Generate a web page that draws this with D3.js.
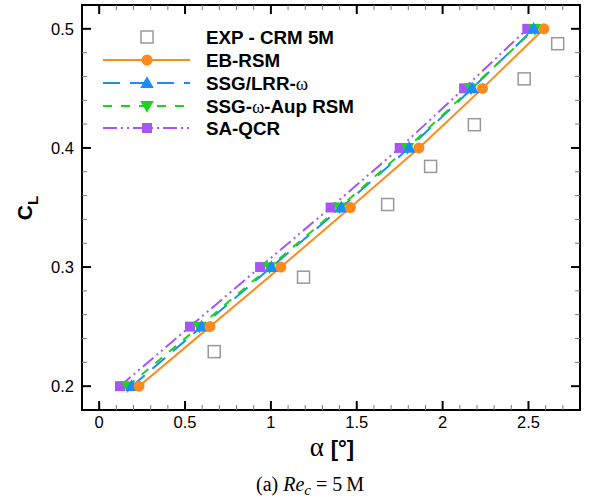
<!DOCTYPE html>
<html><head><meta charset="utf-8">
<script src="https://cdn.jsdelivr.net/npm/d3@7/dist/d3.min.js"></script>
<style>body{margin:0;background:#fff}svg{display:block}</style>
</head><body>
<svg id="chart" width="590" height="501"></svg>
<script>
// ---- data ----
const clLevels = [0.20, 0.25, 0.30, 0.35, 0.40, 0.45, 0.50];
const alphaEB   = [0.232, 0.645, 1.058, 1.463, 1.862, 2.232, 2.590];
const alphaSSG  = [0.190, 0.597, 1.003, 1.410, 1.805, 2.172, 2.530];
const alphaAup  = [0.166, 0.583, 0.992, 1.400, 1.795, 2.165, 2.537];
const alphaQCR  = [0.121, 0.529, 0.937, 1.348, 1.750, 2.125, 2.493];
const expAlpha  = [0.67, 1.19, 1.68, 1.93, 2.185, 2.475, 2.67];
const expCL     = [0.229, 0.2915, 0.3525, 0.3845, 0.4195, 0.458, 0.4875];
const xTicks = [0, 0.5, 1, 1.5, 2, 2.5];
const yTicks = [0.2, 0.3, 0.4, 0.5];
const seriesNames = ["EXP - CRM 5M", "EB-RSM", "SSG/LRR-", "SSG-", "SA-QCR"];

const SANS = "'Liberation Sans', Arial, Helvetica, sans-serif";
const SERIF = "'Liberation Serif', 'Times New Roman', serif";

const svg = d3.select("#chart");
const L = 82, R = 580, T = 5, B = 410;
const x = d3.scaleLinear().domain([-0.1, 2.8]).range([L, R]);
const y = d3.scaleLinear().domain([0.18, 0.52]).range([B, T]);

// frame
svg.append("rect").attr("x", L).attr("y", T).attr("width", R - L).attr("height", B - T)
  .attr("fill", "none").attr("stroke", "#000").attr("stroke-width", 2);

// ticks inward on all four sides
const xMinor = d3.range(-0.1, 2.81, 0.1).map(v => +v.toFixed(2)).filter(v => !xTicks.includes(v) && v > -0.1 && v < 2.8);
const yMinor = d3.range(0.18, 0.521, 0.02).map(v => +v.toFixed(2)).filter(v => !yTicks.includes(v) && v > 0.18 && v < 0.52);
const g = svg.append("g");
function tickX(vals, len, w, c) {
  vals.forEach(v => {
    g.append("line").attr("x1", x(v)).attr("x2", x(v)).attr("y1", B).attr("y2", B - len).attr("stroke-width", w).attr("stroke", c);
    g.append("line").attr("x1", x(v)).attr("x2", x(v)).attr("y1", T).attr("y2", T + len).attr("stroke-width", w).attr("stroke", c);
  });
}
function tickY(vals, len, w, c) {
  vals.forEach(v => {
    g.append("line").attr("y1", y(v)).attr("y2", y(v)).attr("x1", L).attr("x2", L + len).attr("stroke-width", w).attr("stroke", c);
    g.append("line").attr("y1", y(v)).attr("y2", y(v)).attr("x1", R).attr("x2", R - len).attr("stroke-width", w).attr("stroke", c);
  });
}
tickX(xTicks, 9, 2, "#000"); tickX(xMinor, 5, 1, "#777");
tickY(yTicks, 9, 2, "#000"); tickY(yMinor, 5, 1, "#777");

// tick labels
const fmt = d => d === 0 ? "0" : String(d);
svg.append("g").selectAll("text").data(xTicks).join("text")
  .attr("x", d => x(d)).attr("y", 428).attr("text-anchor", "middle")
  .attr("font-family", SANS).attr("font-size", 16.5).text(fmt);
svg.append("g").selectAll("text").data(yTicks).join("text")
  .attr("x", 74).attr("y", d => y(d) + 6).attr("text-anchor", "end")
  .attr("font-family", SANS).attr("font-size", 16.5).text(d => d.toFixed(1));

// axis titles
const yl = svg.append("text").attr("transform", "translate(32,208) rotate(-90)")
  .attr("text-anchor", "middle").attr("font-family", SANS)
  .attr("font-weight", "bold").attr("font-size", 21);
yl.append("tspan").text("C");
yl.append("tspan").attr("dy", 6).attr("font-size", 15).text("L");

const xl = svg.append("text").attr("x", 332).attr("y", 456).attr("text-anchor", "middle")
  .attr("font-size", 22);
xl.append("tspan").attr("font-family", SERIF).attr("font-size", 27).text("α ");
xl.append("tspan").attr("font-family", SANS).attr("font-weight", "bold").text("[°]");

// caption
const cap = svg.append("text").attr("x", 310).attr("y", 491).attr("text-anchor", "middle")
  .attr("font-family", SERIF).attr("font-size", 20);
cap.append("tspan").text("(a) ");
cap.append("tspan").attr("font-style", "italic").text("Re");
cap.append("tspan").attr("font-style", "italic").attr("font-size", 15).attr("dy", 4).text("c");
cap.append("tspan").attr("dy", -4).text(" = 5\u2009M");

// series
const styles = [
  {name: "EB-RSM", a: alphaEB, color: "#ff8a1c", dash: null, marker: "circle"},
  {name: "SSG/LRR", a: alphaSSG, color: "#1a8cff", dash: "17,10", marker: "tri"},
  {name: "Aup", a: alphaAup, color: "#1ed21e", dash: "9,9", marker: "tridown"},
  {name: "QCR", a: alphaQCR, color: "#a855f7", dash: "14,4,2,4,2,4", marker: "square"}
];
const line = d3.line().x(d => x(d[0])).y(d => y(d[1]));
const tri = d3.symbol().type(d3.symbolTriangle).size(80);
function drawMarker(sel, type, color, cx, cy) {
  if (type === "circle") sel.append("circle").attr("cx", cx).attr("cy", cy).attr("r", 5.5).attr("fill", color);
  else if (type === "square") sel.append("rect").attr("x", cx - 5).attr("y", cy - 5).attr("width", 10).attr("height", 10).attr("fill", color);
  else if (type === "tri") sel.append("path").attr("d", tri()).attr("transform", `translate(${cx},${cy + 1})`).attr("fill", color);
  else if (type === "tridown") sel.append("path").attr("d", tri()).attr("transform", `translate(${cx},${cy - 1}) rotate(180)`).attr("fill", color);
}
const plot = svg.append("g");
// exp squares
expAlpha.forEach((a, i) => {
  plot.append("rect").attr("x", x(a) - 6).attr("y", y(expCL[i]) - 6).attr("width", 12).attr("height", 12)
    .attr("fill", "#fff").attr("stroke", "#999").attr("stroke-width", 1.5);
});
styles.forEach(s => {
  const pts = s.a.map((a, i) => [a, clLevels[i]]);
  plot.append("path").attr("d", line(pts)).attr("fill", "none").attr("stroke", s.color)
    .attr("stroke-width", 2).attr("stroke-dasharray", s.dash);
});
styles.slice().reverse().forEach(s => {
  s.a.forEach((a, i) => drawMarker(plot, s.marker, s.color, x(a), y(clLevels[i])));
});

// legend
const lg = svg.append("g");
const rowsY = [37, 60, 83, 106, 128];
lg.append("rect").attr("x", 141).attr("y", rowsY[0] - 6).attr("width", 12).attr("height", 12)
  .attr("fill", "#fff").attr("stroke", "#999").attr("stroke-width", 1.5);
styles.forEach((s, i) => {
  const yy = rowsY[i + 1];
  lg.append("line").attr("x1", 103).attr("x2", 190).attr("y1", yy).attr("y2", yy)
    .attr("stroke", s.color).attr("stroke-width", 2).attr("stroke-dasharray", s.dash);
  drawMarker(lg, s.marker, s.color, 147, yy);
});
const legendText = (i) => lg.append("text").attr("x", 206).attr("y", rowsY[i] + 6.5)
  .attr("font-family", SANS).attr("font-weight", "bold").attr("font-size", 18.8);
legendText(0).text(seriesNames[0]);
legendText(1).text(seriesNames[1]);
const t2 = legendText(2); t2.append("tspan").text(seriesNames[2]);
t2.append("tspan").attr("font-family", SERIF).attr("font-weight", "normal").text("ω");
const t3 = legendText(3); t3.append("tspan").text(seriesNames[3]);
t3.append("tspan").attr("font-family", SERIF).attr("font-weight", "normal").text("ω");
t3.append("tspan").text("-Aup RSM");
legendText(4).text(seriesNames[4]);
</script>
</body></html>
